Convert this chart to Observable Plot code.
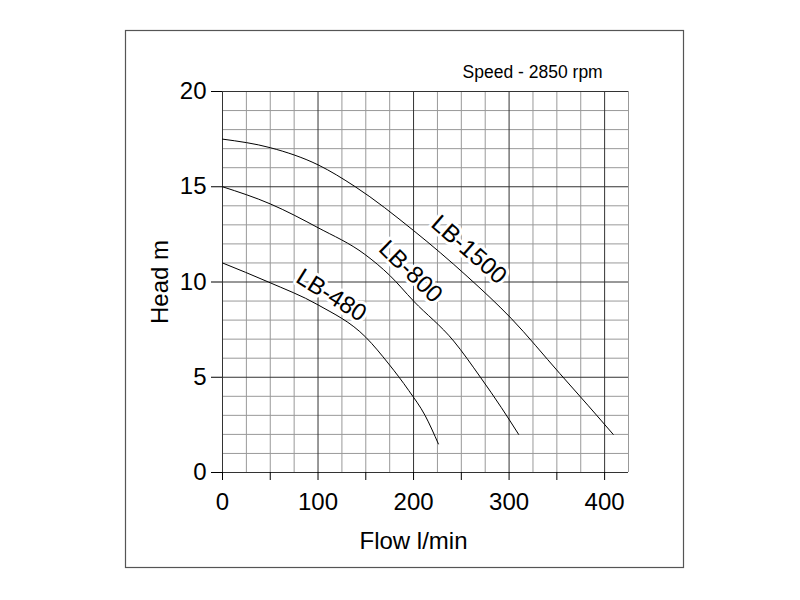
<!DOCTYPE html>
<html>
<head>
<meta charset="utf-8">
<script src="https://cdn.jsdelivr.net/npm/d3@7"></script>
<script src="https://cdn.jsdelivr.net/npm/@observablehq/plot@0.6"></script>
<style>
  html, body { margin: 0; padding: 0; background: #fff; }
  #wrap { position: relative; width: 800px; height: 600px; }
</style>
</head>
<body>
<div id="wrap"></div>
<script>
// ---- data ----
const lb1500Flow = [0, 50, 100, 139, 200, 256, 302, 353, 383, 409];
const lb1500Head = [17.5, 17.05, 16.15, 15.0, 12.7, 10.3, 8.1, 5.2, 3.5, 2.0];

const lb800Flow = [0, 50, 100, 149, 175, 200, 242, 270, 292, 310];
const lb800Head = [15.0, 14.1, 12.85, 11.45, 10.35, 9.0, 6.9, 5.0, 3.4, 2.0];

const lb480Flow = [0, 48, 100, 150, 174, 195, 212, 226];
const lb480Head = [11.0, 10.0, 8.8, 7.1, 5.7, 4.3, 3.0, 1.5];

const seriesNames = ["LB-1500", "LB-800", "LB-480"];
const labelFlow = [258, 197, 114];
const labelHead = [11.7, 10.55, 9.3];
const labelAngle = [41, 44, 32];

const xTicks = [0, 100, 200, 300, 400];
const yTicks = [0, 5, 10, 15, 20];
const speedText = "Speed - 2850 rpm";
const xTitle = "Flow l/min";
const yTitle = "Head m";

// ---- build ----
const toRows = (name, fs, hs) => fs.map((f, i) => ({series: name, flow: f, head: hs[i]}));
const rows = [
  ...toRows("LB-1500", lb1500Flow, lb1500Head),
  ...toRows("LB-800", lb800Flow, lb800Head),
  ...toRows("LB-480", lb480Flow, lb480Head)
];
const labels = seriesNames.map((s, i) => ({s, flow: labelFlow[i], head: labelHead[i], angle: labelAngle[i]}));

const minorX = d3.range(0, 426, 25).filter(v => v % 100 !== 0);
const minorY = d3.range(0, 21, 1).filter(v => v % 5 !== 0);

const chart = Plot.plot({
  width: 800,
  height: 600,
  marginLeft: 222,
  marginRight: 172,
  marginTop: 91,
  marginBottom: 128,
  style: {fontFamily: "Liberation Sans, Arial, sans-serif", fontSize: "24px", color: "#000", background: "transparent"},
  x: {domain: [0, 425]},
  y: {domain: [0, 20]},
  marks: [
    Plot.ruleX(minorX, {stroke: "#999", strokeWidth: 1}),
    Plot.ruleY(minorY, {stroke: "#999", strokeWidth: 1}),
    Plot.ruleX(xTicks, {stroke: "#333", strokeWidth: 1}),
    Plot.ruleY(yTicks, {stroke: "#333", strokeWidth: 1}),
    Plot.axisX({ticks: d3.range(0, 426, 50), tickFormat: d => (d % 100 === 0 ? d : ""), tickSize: 8, tickPadding: 12, fontSize: 24, label: null}),
    Plot.axisY({ticks: yTicks, tickSize: 11, tickPadding: 5, fontSize: 24, label: yTitle, labelAnchor: "center", labelArrow: "none", labelOffset: 72}),
    Plot.text([xTitle], {frameAnchor: "bottom", lineAnchor: "middle", text: d => d, dx: -12, dy: 69, fontSize: 24, fill: "#000"}),
    Plot.line(rows, {x: "flow", y: "head", z: "series", stroke: "#000", strokeWidth: 1, curve: "monotone-x"}),
    Plot.text(labels, {x: "flow", y: "head", text: "s", rotate: "angle", fontSize: 24, fill: "#000", stroke: "#fff", strokeWidth: 6, paintOrder: "stroke"}),
    Plot.text([speedText], {x: 398, y: 21.0, text: d => d, textAnchor: "end", fontSize: 17.5, fill: "#000", clip: false})
  ]
});

const svg = d3.select(chart);
svg.insert("rect", ":first-child")
  .attr("x", 125.5).attr("y", 30.5).attr("width", 558).attr("height", 537)
  .attr("fill", "#fff").attr("stroke", "#555").attr("stroke-width", 1.2);
document.getElementById("wrap").appendChild(chart);
</script>
</body>
</html>
